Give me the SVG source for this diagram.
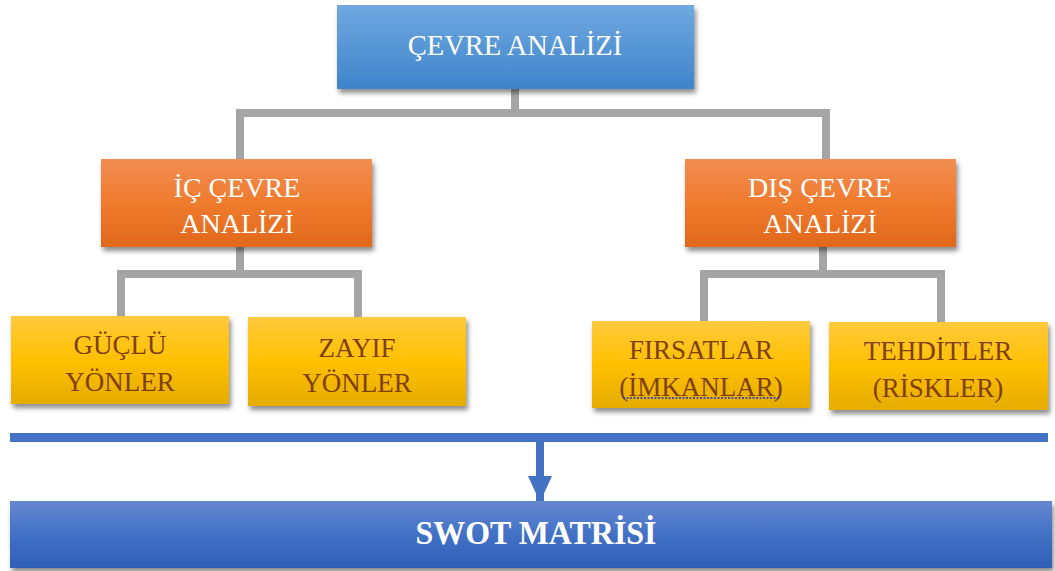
<svg xmlns="http://www.w3.org/2000/svg" width="1055" height="571" viewBox="0 0 1055 571">
  <defs>
    <linearGradient id="gBlue" x1="0" y1="0" x2="0" y2="1">
      <stop offset="0" stop-color="#70a9e0"/>
      <stop offset="1" stop-color="#3f84cb"/>
    </linearGradient>
    <linearGradient id="gOrange" x1="0" y1="0" x2="0" y2="1">
      <stop offset="0" stop-color="#f18d52"/>
      <stop offset="0.5" stop-color="#f07b2e"/>
      <stop offset="1" stop-color="#e0681b"/>
    </linearGradient>
    <linearGradient id="gYellow" x1="0" y1="0" x2="0" y2="1">
      <stop offset="0" stop-color="#ffca3d"/>
      <stop offset="0.5" stop-color="#ffc000"/>
      <stop offset="1" stop-color="#e5ac00"/>
    </linearGradient>
    <linearGradient id="gSwot" x1="0" y1="0" x2="0" y2="1">
      <stop offset="0" stop-color="#6688cf"/>
      <stop offset="0.5" stop-color="#4271c6"/>
      <stop offset="1" stop-color="#2f5fb5"/>
    </linearGradient>
    <filter id="shadow" x="-10%" y="-20%" width="125%" height="150%">
      <feDropShadow dx="2" dy="4" stdDeviation="2.5" flood-color="#000" flood-opacity="0.45"/>
    </filter>
    <marker id="arrowHead" markerWidth="26" markerHeight="24" viewBox="0 0 26 24" refX="26" refY="12" orient="auto" markerUnits="userSpaceOnUse">
      <path d="M0,0 L26,12 L0,24 Z" fill="#4472c4"/>
    </marker>
  </defs>
  <style>
    .conn { fill: none; stroke: #a5a5a5; stroke-width: 8; stroke-linejoin: miter; stroke-linecap: butt; }
    .box { filter: url(#shadow); }
    .white { fill: #ffffff; font-family: "Liberation Serif", "DejaVu Serif", serif; text-anchor: middle; }
    .brown { fill: #7f3f0c; font-family: "Liberation Serif", "DejaVu Serif", serif; font-size: 27px; text-anchor: middle; }
  </style>

  <!-- connectors -->
  <g id="connectors">
    <path class="conn" d="M515,89 V113 M240,160 V113 H826 V160"/>
    <path class="conn" d="M240,247 V274 M121,316 V274 H358 V317"/>
    <path class="conn" d="M823,247 V274 M704,321 V274 H941 V322"/>
    <rect x="10" y="433" width="1038" height="9" fill="#4472c4"/>
    <line x1="540" y1="442" x2="540" y2="502" stroke="#4472c4" stroke-width="8" marker-end="url(#arrowHead)"/>
  </g>

  <g id="cevre-analizi">
    <rect class="box" x="337" y="5" width="357" height="84" fill="url(#gBlue)"/>
    <text class="white" x="515" y="55" font-size="28.5">ÇEVRE ANALİZİ</text>
  </g>

  <g id="ic-cevre">
    <rect class="box" x="101" y="159" width="271" height="88" fill="url(#gOrange)"/>
    <text class="white" x="237" y="197" font-size="28">İÇ ÇEVRE</text>
    <text class="white" x="237" y="233" font-size="28">ANALİZİ</text>
  </g>

  <g id="dis-cevre">
    <rect class="box" x="685" y="159" width="271" height="88" fill="url(#gOrange)"/>
    <text class="white" x="820" y="197" font-size="28">DIŞ ÇEVRE</text>
    <text class="white" x="820" y="233" font-size="28">ANALİZİ</text>
  </g>

  <g id="guclu">
    <rect class="box" x="11" y="316" width="218" height="88" fill="url(#gYellow)"/>
    <text class="brown" x="120" y="354">GÜÇLÜ</text>
    <text class="brown" x="120" y="391">YÖNLER</text>
  </g>

  <g id="zayif">
    <rect class="box" x="248" y="317" width="218" height="89" fill="url(#gYellow)"/>
    <text class="brown" x="357" y="357">ZAYIF</text>
    <text class="brown" x="357" y="392">YÖNLER</text>
  </g>

  <g id="firsatlar">
    <rect class="box" x="592" y="321" width="218" height="87" fill="url(#gYellow)"/>
    <text class="brown" x="701" y="359">FIRSATLAR</text>
    <text class="brown" x="701" y="396">(İMKANLAR)</text>
    <line x1="623" y1="398" x2="779" y2="398" stroke="#1a2fd8" stroke-width="1.5" stroke-dasharray="2 1.5"/>
  </g>

  <g id="tehditler">
    <rect class="box" x="829" y="322" width="219" height="88" fill="url(#gYellow)"/>
    <text class="brown" x="938" y="360">TEHDİTLER</text>
    <text class="brown" x="938" y="397">(RİSKLER)</text>
  </g>

  <g id="swot">
    <rect class="box" x="10" y="501" width="1042" height="67" fill="url(#gSwot)"/>
    <text class="white" x="536" y="544" font-size="34" font-weight="bold" textLength="241" lengthAdjust="spacingAndGlyphs">SWOT MATRİSİ</text>
  </g>
</svg>
